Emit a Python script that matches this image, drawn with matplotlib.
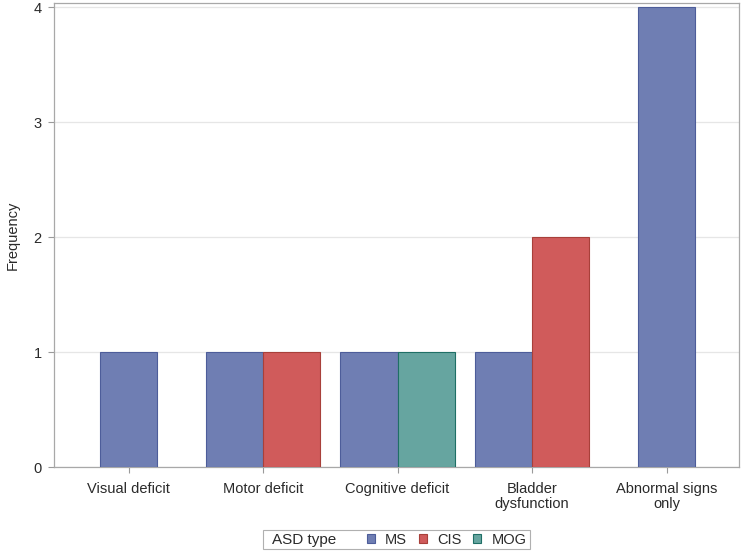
import numpy as np
import matplotlib.pyplot as plt
from matplotlib.patches import Patch, Rectangle

plt.rcParams['font.family'] = ['Liberation Sans', 'DejaVu Sans']

categories = ['Visual deficit', 'Motor deficit', 'Cognitive deficit',
              'Bladder\ndysfunction', 'Abnormal signs\nonly']
groups = ['MS', 'CIS', 'MOG']
ms = [1, 1, 1, 1, 4]
cis = [0, 1, 0, 2, 0]
mog = [0, 0, 1, 0, 0]
yticks = [0, 1, 2, 3, 4]

fills = {'MS': '#6F7EB3', 'CIS': '#D05B5B', 'MOG': '#66A5A0'}
edges = {'MS': '#4D5D9A', 'CIS': '#A8403A', 'MOG': '#1F6F66'}

fig = plt.figure(figsize=(7.45, 5.53), dpi=100)
ax = fig.add_axes([0.0725, 0.1555, 0.9195, 0.839])

width = 0.425
values = {'MS': ms, 'CIS': cis, 'MOG': mog}
x = np.arange(len(categories))
for i in range(len(categories)):
    # groups with no count are left out, the rest centred on the category
    present = [g for g in groups if values[g][i] > 0]
    n = len(present)
    for j, g in enumerate(present):
        off = (j - (n - 1) / 2) * width
        ax.bar(x[i] + off, values[g][i], width=width, color=fills[g],
               edgecolor=edges[g], linewidth=0.8, zorder=3)

txt = '#2A2A2A'
ax.set_xlim(-0.554, len(categories) - 1 + 0.539)
ax.set_ylim(0, 4.035)
ax.set_yticks(yticks)
ax.set_xticks(x)
ax.set_xticklabels(categories, fontsize=10.5, color=txt, linespacing=1.05)
ax.tick_params(axis='y', labelsize=10.5, colors=txt, length=4, width=0.8, pad=5)
ax.tick_params(axis='x', length=4, width=0.8, pad=7)
ax.tick_params(axis='both', color='#9A9A9A')
ax.yaxis.grid(True, color='#E6E6E6', linewidth=0.9, zorder=0)
ax.set_axisbelow(True)
for s in ax.spines.values():
    s.set_color('#A8A8A8')
    s.set_linewidth(0.9)
ax.set_ylabel('Frequency', fontsize=10.5, color=txt, labelpad=10)

# legend row under the plot
fig.patches.append(Rectangle((263 / 745, 1 - 549 / 553), 267 / 745, 19 / 553,
                             transform=fig.transFigure, fill=False,
                             edgecolor='#B0B0B0', linewidth=0.8))
fig.text(272 / 745, 1 - 540 / 553, 'ASD type', fontsize=11,
         va='center', ha='left', color=txt)
handles = [Patch(facecolor=fills[g], edgecolor=edges[g], linewidth=0.8, label=g)
           for g in groups]
leg = fig.legend(handles=handles, loc='center left', ncol=3, frameon=False,
                 bbox_to_anchor=(367 / 745, 1 - 540 / 553), fontsize=10.5,
                 handlelength=0.55, handleheight=0.55, handletextpad=0.7,
                 columnspacing=0.8, borderpad=0, borderaxespad=0)
for t in leg.get_texts():
    t.set_color(txt)

fig.savefig('out.png', dpi=100)
